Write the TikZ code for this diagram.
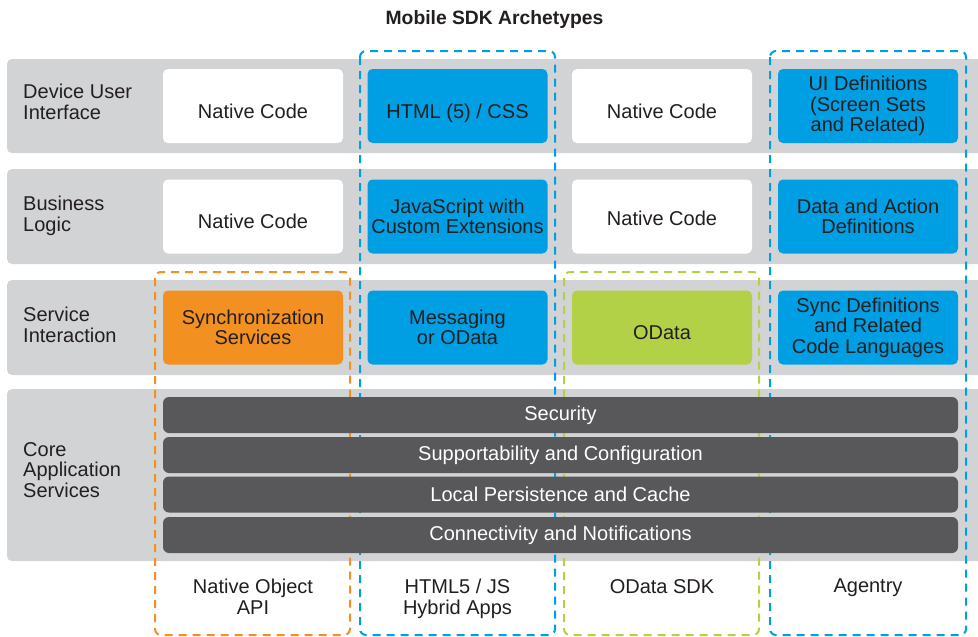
\documentclass[tikz,border=0pt]{standalone}
\usepackage{fontspec}
\setmainfont{Liberation Sans}
\definecolor{bandgray}{HTML}{D2D3D5}
\definecolor{sapblue}{HTML}{009FE3}
\definecolor{saporange}{HTML}{F39022}
\definecolor{sapgreen}{HTML}{B3D147}
\definecolor{bardark}{HTML}{58585A}
\definecolor{txt}{HTML}{231F20}
\begin{document}
\begin{tikzpicture}[x=1pt,y=-1pt,
  band/.style={fill=bandgray, rounded corners=5pt},
  boxbase/.style={rounded corners=5pt, minimum width=180pt, minimum height=74pt, align=center, inner sep=0pt, text=txt, font=\fontsize{20}{20.5}\selectfont},
  lowtext/.style={text height=24pt, text depth=0pt},
  whitebox/.style={boxbase, fill=white},
  bluebox/.style={boxbase, fill=sapblue},
  orangebox/.style={boxbase, fill=saporange},
  greenbox/.style={boxbase, fill=sapgreen},
  bar/.style={rounded corners=6pt, fill=bardark, minimum width=795pt, minimum height=36pt, inner sep=0pt, text=white, font=\fontsize{20}{20.5}\selectfont},
  rowlabel/.style={anchor=north west, align=left, inner sep=0pt, text=txt, font=\fontsize{20}{20.5}\selectfont},
  collabel/.style={anchor=north, align=center, inner sep=0pt, text=txt, font=\fontsize{20}{20.5}\selectfont},
  frame/.style={line width=2pt, dash pattern=on 8pt off 6pt, rounded corners=6pt}
]
\clip (0,0) rectangle (978,637);
\fill[white] (0,0) rectangle (978,637);

% title
\node[anchor=base, inner sep=0pt, text=txt, font=\bfseries\fontsize{19.3}{20}\selectfont] (title) at (494.5,24.3) {Mobile SDK Archetypes};

% bands
\path[band] (7,59) rectangle (990,153);
\path[band] (7,169) rectangle (990,264);
\path[band] (7,280) rectangle (990,375);
\path[band] (7,389) rectangle (990,561);

% dashed frames
\draw[frame, draw=saporange] (155,272) rectangle (350,635);
\draw[frame, draw=sapblue] (360,51) rectangle (555,635);
\draw[frame, draw=sapgreen] (564,272) rectangle (759,635);
\draw[frame, draw=sapblue] (770,51) rectangle (966,635);

% row labels
\node[rowlabel] (lui) at (23,84) {Device User\\Interface};
\node[rowlabel] (lbl) at (23,196) {Business\\Logic};
\node[rowlabel] (lsi) at (23,307) {Service\\Interaction};
\node[rowlabel] (lcore) at (23,442) {Core\\Application\\Services};

% row 1
\node[whitebox, lowtext] (n11) at (253,106) {Native Code};
\node[bluebox, lowtext] (n12) at (457.5,106) {HTML (5) / CSS};
\node[whitebox, lowtext] (n13) at (662,106) {Native Code};
\node[bluebox] (n14) at (868,106) {UI Definitions\\(Screen Sets\\and Related)};

% row 2
\node[whitebox, lowtext] (n21) at (253,216.5) {Native Code};
\node[bluebox] (n22) at (457.5,216.5) {JavaScript with\\Custom Extensions};
\node[whitebox, text height=17pt, text depth=0pt] (n23) at (662,216.5) {Native Code};
\node[bluebox] (n24) at (868,216.5) {Data and Action\\Definitions};

% row 3
\node[orangebox] (n31) at (253,327.5) {Synchronization\\Services};
\node[bluebox] (n32) at (457.5,327.5) {Messaging\\or OData};
\node[greenbox, lowtext] (n33) at (662,327.5) {OData};
\node[bluebox] (n34) at (868,327.5) {Sync Definitions\\and Related\\Code Languages};

% core bars
\node[bar] (b1) at (560.5,415) {Security};
\node[bar] (b2) at (560.5,455) {Supportability and Configuration};
\node[bar] (b3) at (560.5,494.5) {Local Persistence and Cache};
\node[bar] (b4) at (560.5,535) {Connectivity and Notifications};

% column labels
\node[collabel] (c1) at (253,579) {Native Object\\API};
\node[collabel] (c2) at (457.5,579) {HTML5 / JS\\Hybrid Apps};
\node[collabel] (c3) at (662,579) {OData SDK};
\node[collabel] (c4) at (868,579) {Agentry};
\end{tikzpicture}
\end{document}
